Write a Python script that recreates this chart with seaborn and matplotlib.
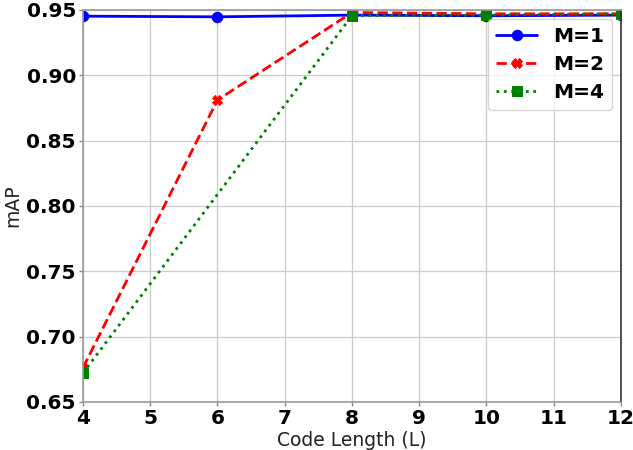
import matplotlib
matplotlib.use("Agg")
import matplotlib.pyplot as plt
import seaborn as sns
import pandas as pd

code_length = [4, 6, 8, 10, 12]
map_m1 = [0.9452, 0.9447, 0.9460, 0.9455, 0.9460]
map_m2 = [0.676, 0.881, 0.948, 0.947, 0.947]
code_length_m4 = [4, 8, 10, 12]
map_m4 = [0.672, 0.9455, 0.946, 0.947]
x_ticks = [4, 5, 6, 7, 8, 9, 10, 11, 12]
y_ticks = [0.65, 0.70, 0.75, 0.80, 0.85, 0.90, 0.95]

sns.set_theme(style="whitegrid")
plt.rcParams['font.family'] = ['DejaVu Sans']

fig, ax = plt.subplots(figsize=(6.33, 4.5), dpi=100)

df1 = pd.DataFrame({"L": code_length, "mAP": map_m1})
df2 = pd.DataFrame({"L": code_length, "mAP": map_m2})
df4 = pd.DataFrame({"L": code_length_m4, "mAP": map_m4})

sns.lineplot(data=df1, x="L", y="mAP", ax=ax, color="blue", linestyle="-", marker="o",
             markersize=7.5, linewidth=2, label="M=1", markeredgecolor="blue")
sns.lineplot(data=df2, x="L", y="mAP", ax=ax, color="red", linestyle="--", marker="X",
             markersize=7, linewidth=2, label="M=2", markeredgecolor="red")
sns.lineplot(data=df4, x="L", y="mAP", ax=ax, color="green", linestyle=":", marker="s",
             markersize=7, linewidth=2, label="M=4", markeredgecolor="green")

ax.set_xlim(4, 12)
ax.set_ylim(0.65, 0.95)
ax.set_xticks(x_ticks)
ax.set_yticks(y_ticks)
ax.set_yticklabels([f"{v:.2f}" for v in y_ticks])
for lbl in ax.get_xticklabels() + ax.get_yticklabels():
    lbl.set_fontsize(14.5)
    lbl.set_fontweight("bold")
    lbl.set_color("black")
ax.set_xlabel("Code Length (L)", fontsize=13.5, color="#222222", labelpad=2)
ax.set_ylabel("mAP", fontsize=13.5, color="#222222", labelpad=3)
ax.tick_params(axis="both", which="major", pad=2, length=3, width=1, color="#888888",
               bottom=True, left=True)
ax.grid(True, color="#cccccc", linewidth=0.9)
for s in ax.spines.values():
    s.set_color("#999999")
    s.set_linewidth(1.2)
ax.spines["right"].set_color("#333333")

leg = ax.legend(loc="upper right", prop={"weight": "bold", "size": 14.5}, frameon=True,
                borderaxespad=0.45, framealpha=0.8, labelspacing=0.45)
for t in leg.get_texts():
    t.set_color("black")
ax.set_axisbelow(True)

fig.subplots_adjust(left=0.131, right=0.981, top=0.978, bottom=0.107)
fig.savefig("out.png", dpi=100)
